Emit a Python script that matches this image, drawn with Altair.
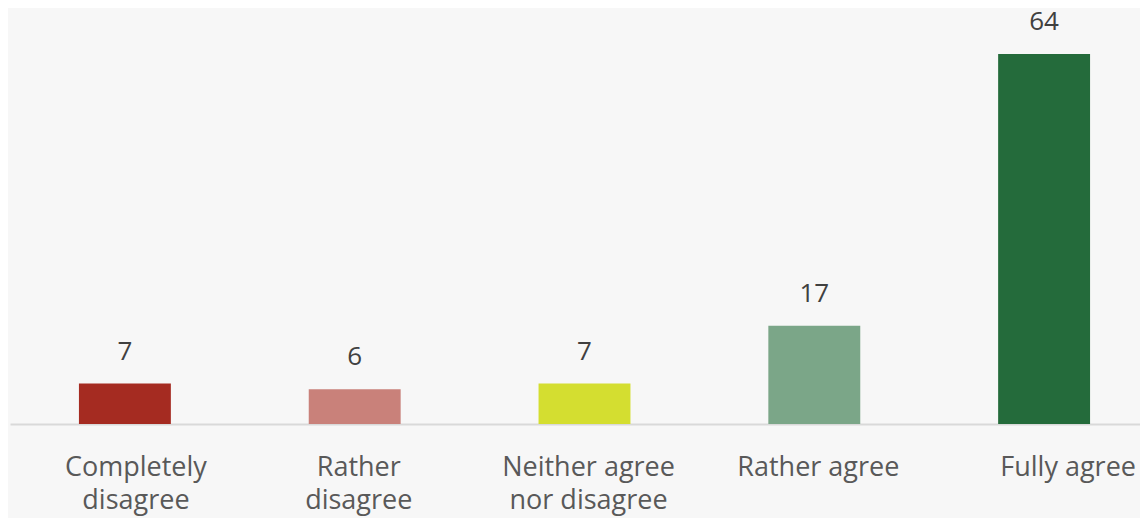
import altair as alt
import pandas as pd

categories = ["Completely disagree", "Rather disagree", "Neither agree nor disagree",
              "Rather agree", "Fully agree"]
label_lines = [["Completely", "disagree"], ["Rather", "disagree"],
               ["Neither agree", "nor disagree"], ["Rather agree"], ["Fully agree"]]
values = [7, 6, 7, 17, 64]
colors = ["#A52B21", "#C9817A", "#D4DE30", "#7BA688", "#246B3B"]

df = pd.DataFrame({
    "cat": categories,
    "value": values,
    "label": ["\n".join(l) for l in label_lines],
})

FONT = "Open Sans"

x_enc = alt.X(
    "cat:N", sort=categories,
    scale=alt.Scale(range=[0, 1149], paddingInner=0.6, paddingOuter=0.3),
    axis=alt.Axis(title=None, labels=False, ticks=False, grid=False,
                  domainColor="#D9D9D9", domainWidth=2),
)
y_enc = alt.Y("value:Q", scale=alt.Scale(domain=[0, 64], nice=False, zero=True), axis=None)

base = alt.Chart(df)

bars = base.mark_bar().encode(
    x=x_enc,
    y=y_enc,
    color=alt.Color("cat:N", sort=categories,
                    scale=alt.Scale(domain=categories, range=colors), legend=None),
)

value_labels = base.mark_text(
    baseline="alphabetic", dy=-24, fontSize=26, font=FONT, color="#404040"
).encode(x=x_enc, y=y_enc, text=alt.Text("value:Q"))

# label nudge = half bar width (46) + small manual shift seen in the reference
cat_labels = base.transform_calculate(
    nudge="46 + (datum.cat == 'Fully agree' ? 24 : (datum.cat == 'Completely disagree' ? 11 : 4))"
).mark_text(
    baseline="alphabetic", lineBreak="\n", fontSize=27, font=FONT,
    color="#595959", lineHeight=33
).encode(
    x=x_enc,
    xOffset=alt.XOffset("nudge:Q", scale=None),
    y=alt.value(422),
    text=alt.Text("label:N"),
)

chart = alt.layer(bars, value_labels, cat_labels).properties(
    width=1130, height=370,
    background="#F7F7F7",
    padding={"left": 2, "top": 46, "right": 0, "bottom": 94},
    autosize=alt.AutoSizeParams(type="none"),
).configure_view(stroke=None)

chart.save("out.html", embed_options={"renderer": "svg", "actions": False})
